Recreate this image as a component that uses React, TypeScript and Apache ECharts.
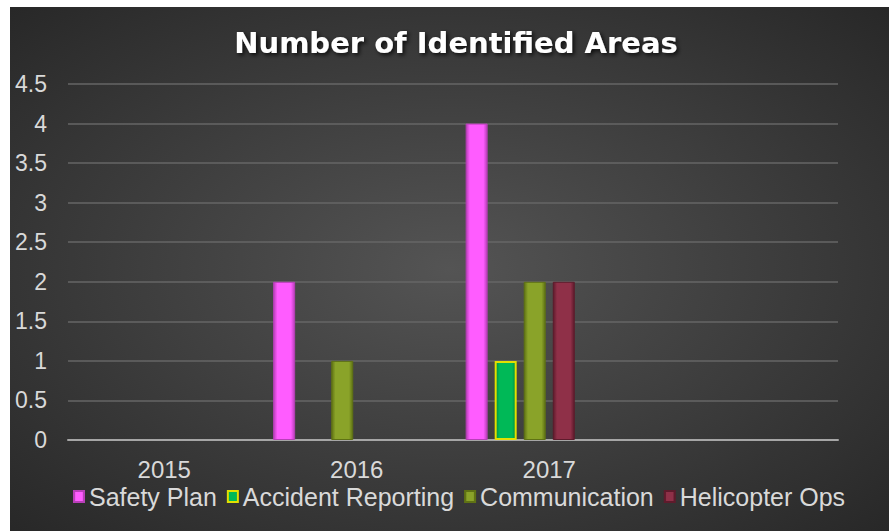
import React, { useEffect, useRef } from "react";
import * as echarts from "echarts";

const categories = ["2015", "2016", "2017", ""];
const safetyPlan = [null, 2, 4, null];
const accidentReporting = [null, null, 1, null];
const communication = [null, 1, 2, null];
const helicopterOps = [null, null, 2, null];
const spare1 = [null, null, null, null];
const spare2 = [null, null, null, null];
const seriesNames = ["Safety Plan", "Accident Reporting", "Communication", "Helicopter Ops"];

function grad(edge: string, base: string) {
  return new echarts.graphic.LinearGradient(0, 0, 1, 0, [
    { offset: 0, color: edge },
    { offset: 0.18, color: base },
    { offset: 0.82, color: base },
    { offset: 1, color: edge },
  ]);
}

export default function App() {
  const ref = useRef<HTMLDivElement>(null);
  useEffect(() => {
    document.body.style.margin = "0";
    const chart = echarts.init(ref.current!, null, { renderer: "svg" });
    const font = "'Liberation Sans', Arial, sans-serif";
    const barW = 22;
    const gap = "32%";
    const mk = (name: string, data: (number | null)[], edge: string, base: string, border?: string) => ({
      name,
      type: "bar",
      data,
      barWidth: barW,
      barGap: gap,
      itemStyle: {
        color: grad(edge, base),
        borderColor: border || edge,
        borderWidth: border ? 2 : 1,
      },
    });
    chart.setOption({
      animation: false,
      backgroundColor: {
        type: "radial",
        x: 0.5,
        y: 0.5,
        r: 0.75,
        colorStops: [
          { offset: 0, color: "#545454" },
          { offset: 1, color: "#252525" },
        ],
      },
      title: {
        text: "Number of Identified Areas",
        left: 441,
        textAlign: "center",
        top: 16,
        textStyle: {
          fontFamily: "'DejaVu Sans', sans-serif",
          fontWeight: "bold",
          fontSize: 29,
          color: "#ffffff",
          textShadowColor: "rgba(0,0,0,0.8)",
          textShadowBlur: 4,
          textShadowOffsetX: 2,
          textShadowOffsetY: 2,
        },
      },
      legend: {
        data: seriesNames,
        left: 63,
        top: 477,
        padding: 0,
        icon: "rect",
        itemWidth: 10,
        itemHeight: 11,
        itemGap: 10,
        textStyle: { color: "#d9d9d9", fontSize: 25, fontFamily: font },
      },
      grid: { left: 58, right: 51, top: 77, bottom: 91, containLabel: false },
      xAxis: {
        type: "category",
        data: categories,
        axisLine: { lineStyle: { color: "#a6a6a6", width: 2 } },
        axisTick: { show: false },
        axisLabel: { color: "#d9d9d9", fontSize: 24, fontFamily: font, margin: 17 },
      },
      yAxis: {
        type: "value",
        min: 0,
        max: 4.5,
        interval: 0.5,
        axisLine: { show: false },
        axisTick: { show: false },
        axisLabel: { color: "#d9d9d9", fontSize: 23, fontFamily: font, margin: 21 },
        splitLine: { lineStyle: { color: "#666666", width: 1.5 } },
      },
      series: [
        mk("Safety Plan", safetyPlan, "#b83fb8", "#ff5cff"),
        mk("Accident Reporting", accidentReporting, "#008a40", "#00b957", "#e2e000"),
        mk("Communication", communication, "#5f7214", "#8aa329"),
        mk("Helicopter Ops", helicopterOps, "#5e1b2c", "#8f3048"),
        { name: "s5", type: "bar", data: spare1, barWidth: barW, barGap: gap },
        { name: "s6", type: "bar", data: spare2, barWidth: barW, barGap: gap },
      ],
    });
    return () => chart.dispose();
  }, []);
  return <div ref={ref} style={{ width: 879, height: 524, marginLeft: 10, marginTop: 7 }} />;
}
